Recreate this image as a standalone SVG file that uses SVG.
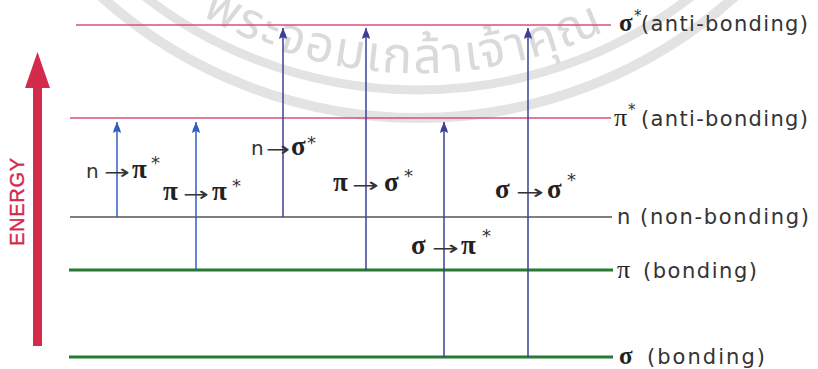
<svg xmlns="http://www.w3.org/2000/svg" width="818" height="369" viewBox="0 0 818 369">
<style>
.lvl{font-family:"DejaVu Sans",Verdana,sans-serif;font-size:21px;fill:#333}
.gk{font-family:"Liberation Serif","Times New Roman",serif;font-size:27px;font-weight:bold;fill:#222}
.gkr{font-family:"Liberation Serif","Times New Roman",serif;font-size:26px;fill:#222}
.tn{font-family:"DejaVu Sans",Verdana,sans-serif;font-size:20px;fill:#333}
.ar{font-family:"DejaVu Sans",sans-serif;font-size:20px;fill:#333}
.st{font-family:"DejaVu Sans",sans-serif;font-size:18px;fill:#333}
.sl{font-family:"DejaVu Sans",sans-serif;font-size:15px;fill:#333}
.tr{fill:none;stroke-width:1.5}
.wm{fill:none;stroke:#e3e3e3}
</style>
<defs>
<marker id="ahb" viewBox="-5 0 10 12" refX="0" refY="0" markerWidth="10" markerHeight="12" markerUnits="userSpaceOnUse" orient="0">
<path d="M0,0 L3,7 L4,11 L0,9 L-4,11 L-3,7 Z" fill="#2f5fc4"/>
</marker>
<marker id="ahn" viewBox="-5 0 10 12" refX="0" refY="0" markerWidth="10" markerHeight="12" markerUnits="userSpaceOnUse" orient="0">
<path d="M0,0 L3,7 L4,11 L0,9 L-4,11 L-3,7 Z" fill="#3b3f98"/>
</marker>
<path id="wmarc" d="M 46,-141 A 430 430 0 0 0 790,-141"/>
</defs>

<g id="watermark">
<circle cx="418" cy="-356" r="446" class="wm" stroke-width="9"/>
<circle cx="418" cy="-356" r="474" class="wm" stroke-width="10"/>
<text font-family="'Noto Sans Thai','Noto Sans',sans-serif" font-size="50" letter-spacing="2" fill="#dadada"><textPath href="#wmarc" startOffset="222">พระจอมเกล้าเจ้าคุณ</textPath></text>
</g>

<g id="energy-axis">
<rect x="33" y="86" width="9" height="260" fill="#d42a4c"/>
<polygon points="37.5,52 50,88 25,88" fill="#d42a4c"/>
<text transform="translate(24,202) rotate(-90)" text-anchor="middle" font-family="'Liberation Sans',Arial,sans-serif" font-size="20" fill="#d42a4c" stroke="#d42a4c" stroke-width="0.4" textLength="88" lengthAdjust="spacing">ENERGY</text>
</g>

<g id="level-sigma-star">
<line x1="76" y1="25" x2="611" y2="25" stroke="#d9507a" stroke-width="1.3"/>
<text x="619" y="31"><tspan class="gk" style="font-size:25px">σ</tspan><tspan class="sl" x="634" y="21">*</tspan><tspan class="lvl" x="641" y="31" textLength="167" lengthAdjust="spacing">(anti-bonding)</tspan></text>
</g>

<g id="level-pi-star">
<line x1="70" y1="118" x2="611" y2="118" stroke="#d9507a" stroke-width="1.3"/>
<text x="614" y="126"><tspan class="gkr">π</tspan><tspan class="sl" x="628" y="115">*</tspan><tspan class="lvl" x="641" y="126" textLength="167" lengthAdjust="spacing">(anti-bonding)</tspan></text>
</g>

<g id="level-n">
<line x1="70" y1="217" x2="612" y2="217" stroke="#555" stroke-width="1.3"/>
<text class="lvl" x="617" y="224">n<tspan x="640" textLength="169" lengthAdjust="spacing">(non-bonding)</tspan></text>
</g>

<g id="level-pi">
<line x1="69" y1="270" x2="613" y2="270" stroke="#267a33" stroke-width="2.8"/>
<text x="617" y="278"><tspan class="gkr">π</tspan><tspan class="lvl" x="643" textLength="114" lengthAdjust="spacing">(bonding)</tspan></text>
</g>

<g id="level-sigma">
<line x1="69" y1="357" x2="613" y2="357" stroke="#267a33" stroke-width="2.8"/>
<text x="619" y="364"><tspan class="gk" style="font-size:25px">σ</tspan><tspan class="lvl" x="647" textLength="118" lengthAdjust="spacing">(bonding)</tspan></text>
</g>

<g id="connectors">
<line class="tr" x1="117" y1="217" x2="117" y2="122" stroke="#2f5fc4" stroke-width="1.4" marker-end="url(#ahb)"/>
<line class="tr" x1="196" y1="270" x2="196" y2="122" stroke="#2f5fc4" stroke-width="2" marker-end="url(#ahb)"/>
<line class="tr" x1="283" y1="217" x2="283" y2="28" stroke="#3b3f98" marker-end="url(#ahn)"/>
<line class="tr" x1="366" y1="270" x2="366" y2="28" stroke="#3b3f98" marker-end="url(#ahn)"/>
<line class="tr" x1="444" y1="357" x2="444" y2="122" stroke="#3b3f98" marker-end="url(#ahn)"/>
<line class="tr" x1="528" y1="357" x2="528" y2="28" stroke="#3b3f98" marker-end="url(#ahn)"/>
</g>

<g id="label-n-pi-star">
<text y="178"><tspan class="tn" x="86">n</tspan><tspan class="ar" x="104" y="179" textLength="26" lengthAdjust="spacingAndGlyphs">→</tspan><tspan class="gk" x="132" y="178">π</tspan><tspan class="st" x="151" y="169">*</tspan></text>
</g>
<g id="label-pi-pi-star">
<text y="200"><tspan class="gk" x="163">π</tspan><tspan class="ar" x="183" y="201" textLength="26" lengthAdjust="spacingAndGlyphs">→</tspan><tspan class="gk" x="212" y="200">π</tspan><tspan class="st" x="232" y="192">*</tspan></text>
</g>
<g id="label-n-sigma-star">
<text y="155"><tspan class="tn" x="251">n</tspan><tspan class="ar" x="266" y="156" textLength="24" lengthAdjust="spacingAndGlyphs">→</tspan><tspan class="gk" x="291" y="155">σ</tspan><tspan class="st" x="307" y="149">*</tspan></text>
</g>
<g id="label-pi-sigma-star">
<text y="191"><tspan class="gk" x="333">π</tspan><tspan class="ar" x="352" y="192" textLength="27" lengthAdjust="spacingAndGlyphs">→</tspan><tspan class="gk" x="384" y="191">σ</tspan><tspan class="st" x="404" y="182">*</tspan></text>
</g>
<g id="label-sigma-pi-star">
<text y="254"><tspan class="gk" x="411">σ</tspan><tspan class="ar" x="432" y="255" textLength="27" lengthAdjust="spacingAndGlyphs">→</tspan><tspan class="gk" x="461" y="254">π</tspan><tspan class="st" x="482" y="242">*</tspan></text>
</g>
<g id="label-sigma-sigma-star">
<text y="198"><tspan class="gk" x="495">σ</tspan><tspan class="ar" x="516" y="199" textLength="28" lengthAdjust="spacingAndGlyphs">→</tspan><tspan class="gk" x="547" y="198">σ</tspan><tspan class="st" x="567" y="186">*</tspan></text>
</g>
</svg>
